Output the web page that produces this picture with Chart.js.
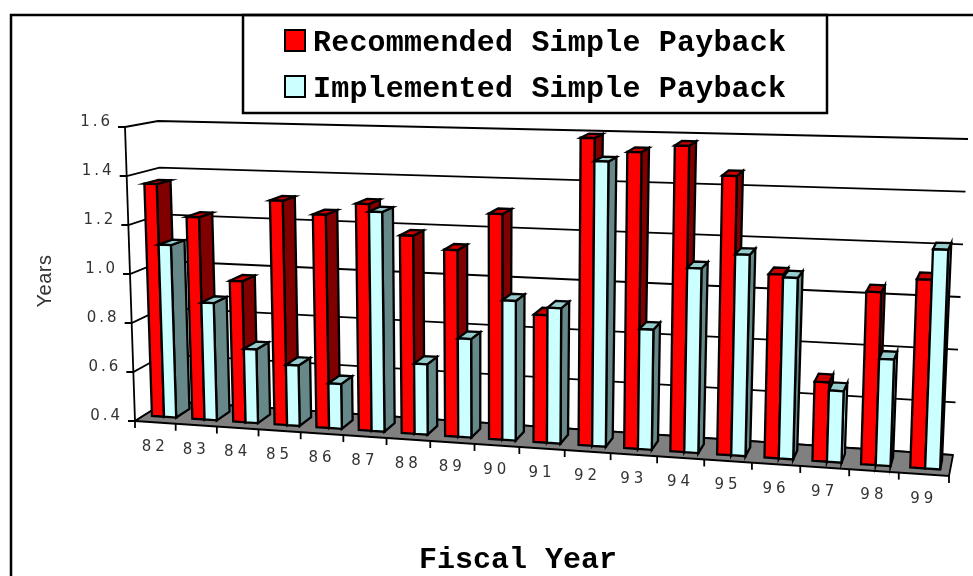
<!DOCTYPE html>
<html>
<head>
<meta charset="utf-8">
<style>html,body{margin:0;padding:0;background:#fff}canvas{display:block}</style>
<script src="https://cdn.jsdelivr.net/npm/chart.js@4"></script>
</head>
<body>
<canvas id="c" width="973" height="576"></canvas>
<script>
const categories = ['82','83','84','85','86','87','88','89','90','91','92','93','94','95','96','97','98','99'];
const recommended = [1.36,1.23,0.975,1.31,1.26,1.31,1.19,1.14,1.29,0.90,1.60,1.55,1.58,1.47,1.10,0.70,1.05,1.105];
const implemented = [1.11,0.88,0.70,0.645,0.58,1.28,0.68,0.79,0.95,0.93,1.51,0.865,1.11,1.17,1.09,0.67,0.80,1.22];
const seriesNames = ['Recommended Simple Payback','Implemented Simple Payback'];
const axisTitleY = 'Years';
const axisTitleX = 'Fiscal Year';

// Corners of the perspective box: [s, v] at the front and back planes
const FRONT = {bl:[135,421], br:[949,476], tl:[125,127], tr:[960,152]};
const BACK  = {bl:[167,401], br:[953,455], tl:[158,121], tr:[968,139]};
const K = 1.118;
const DEPTH = [0.28, 0.71];

function lerp(a,b,t){return a+(b-a)*t;}
function planePoint(P,s,v){
  const bx=lerp(P.bl[0],P.br[0],s), by=lerp(P.bl[1],P.br[1],s);
  const tx=lerp(P.tl[0],P.tr[0],s), ty=lerp(P.tl[1],P.tr[1],s);
  return [lerp(bx,tx,v),lerp(by,ty,v)];
}
function project(s,v,w){
  const a=planePoint(FRONT,s,v), b=planePoint(BACK,s,v);
  return [lerp(a[0],b[0],w),lerp(a[1],b[1],w)];
}
function poly(ctx,pts,fill){
  ctx.beginPath();
  pts.forEach((p,i)=>i?ctx.lineTo(p[0],p[1]):ctx.moveTo(p[0],p[1]));
  ctx.closePath();
  if(fill){ctx.fillStyle=fill;ctx.fill();}
  ctx.stroke();
}
function line(ctx,a,b){ctx.beginPath();ctx.moveTo(a[0],a[1]);ctx.lineTo(b[0],b[1]);ctx.stroke();}
function fitText(ctx,text,x,y,width){
  ctx.letterSpacing='0px';
  const w=ctx.measureText(text).width;
  ctx.letterSpacing=((width-w)/(text.length-1))+'px';
  ctx.textAlign='left';
  ctx.fillText(text,x,y);
  ctx.letterSpacing='0px';
}

const scene3d = {
  id:'scene3d',
  beforeDatasetsDraw(chart){
    const ctx=chart.ctx, area=chart.chartArea, xs=chart.scales.x, ys=chart.scales.y;
    const sOf=px=>{const t=(px-area.left)/(area.right-area.left);return t/(t+K*(1-t));};
    const vOf=py=>(area.bottom-py)/(area.bottom-area.top);
    ctx.save();
    ctx.strokeStyle='#000';ctx.lineJoin='miter';ctx.lineCap='butt';

    // outer frame
    ctx.lineWidth=2.5;
    ctx.beginPath();ctx.moveTo(11,576);ctx.lineTo(11,15);ctx.lineTo(973,15);ctx.stroke();

    // gridlines, value axis and its labels
    ctx.lineWidth=1.8;
    ys.ticks.forEach((t,i)=>{
      const v=vOf(ys.getPixelForTick(i));
      const f=project(0,v,0), bl=project(0,v,1), br=project(1,v,1);
      ctx.beginPath();ctx.moveTo(f[0]-7,f[1]);ctx.lineTo(f[0],f[1]);ctx.lineTo(bl[0],bl[1]);ctx.lineTo(br[0],br[1]);ctx.stroke();
      ctx.save();
      ctx.fillStyle='#333';ctx.font='15px "DejaVu Sans"';ctx.letterSpacing='3px';
      ctx.textBaseline='middle';ctx.textAlign='left';
      const w=ctx.measureText(t.label).width-3;
      ctx.fillText(t.label,f[0]-15-w,f[1]-5);
      ctx.restore();
    });
    line(ctx,project(0,1,0),project(0,0,0));

    // floor
    poly(ctx,[project(0,0,0),project(1,0,0),project(1,0,1),project(0,0,1)],'#808080');

    // category ticks and labels
    const n=xs.ticks.length, half=(xs.getPixelForTick(1)-xs.getPixelForTick(0))/2;
    for(let i=0;i<=n;i++){
      const c=i<n?xs.getPixelForTick(i)-half:xs.getPixelForTick(n-1)+half;
      const p=project(sOf(c),0,0);
      line(ctx,p,[p[0],p[1]+7]);
    }
    xs.ticks.forEach((t,i)=>{
      const p=project(sOf(xs.getPixelForTick(i)),0,0);
      ctx.save();
      ctx.fillStyle='#333';ctx.font='15px "DejaVu Sans"';ctx.letterSpacing='4px';
      ctx.textBaseline='middle';ctx.textAlign='left';
      const w=ctx.measureText(t.label).width-4;
      ctx.fillText(t.label,p[0]-2-w/2,p[1]+24.5);
      ctx.restore();
    });

    // bars, left to right and series by series
    const m0=chart.getDatasetMeta(0).data, m1=chart.getDatasetMeta(1).data;
    ctx.lineWidth=2.3;
    m0.forEach((_,i)=>{
      [m0[i],m1[i]].forEach((el,di)=>{
        const props=el.getProps(['x','y','base','width'],true);
        const s0=sOf(props.x-props.width/2), s1=sOf(props.x+props.width/2);
        const v0=Math.max(0,vOf(props.base)), v1=vOf(props.y);
        const [w0,w1]=DEPTH;
        const A=project(s0,v1,w0),B=project(s1,v1,w0),C=project(s1,v1,w1),D=project(s0,v1,w1);
        const E=project(s1,v0,w0),F=project(s1,v0,w1),G=project(s0,v0,w0);
        const lateCyan=di===1&&i>=15;
        const front=di===0?'#ff0000':'#ccffff';
        const side=di===0?'#800000':(lateCyan?'#99cccc':'#668888');
        const top=di===0?'#cc0000':'#99cccc';
        poly(ctx,[B,C,F,E],side);
        poly(ctx,[A,B,C,D],top);
        poly(ctx,[A,B,E,G],front);
      });
    });

    // legend
    ctx.lineWidth=2.5;
    ctx.strokeRect(243,15,584,98);
    const rows=[[30,51],[76,97]];
    chart.data.datasets.forEach((d,i)=>{
      ctx.fillStyle=d.backgroundColor;
      ctx.fillRect(285,rows[i][0],20,21);
      ctx.lineWidth=2;
      ctx.strokeRect(285,rows[i][0],20,21);
      ctx.fillStyle='#000';
      ctx.font='bold 30px "Liberation Mono"';
      ctx.textBaseline='alphabetic';
      fitText(ctx,d.label,313,rows[i][1],473);
    });

    // axis titles
    ctx.fillStyle='#000';
    ctx.font='bold 30px "Liberation Mono"';
    fitText(ctx,axisTitleX,419,568,198);
    ctx.save();
    ctx.translate(51,281);ctx.rotate(-Math.PI/2);
    ctx.fillStyle='#333';ctx.font='20px "Liberation Sans"';
    ctx.textAlign='center';ctx.letterSpacing='0.5px';
    ctx.fillText(axisTitleY,0,0);
    ctx.restore();

    ctx.restore();
    return false;
  }
};

new Chart(document.getElementById('c'),{
  type:'bar',
  data:{
    labels:categories,
    datasets:[
      {label:seriesNames[0],data:recommended,backgroundColor:'#ff0000',borderColor:'#000',barPercentage:1,categoryPercentage:0.6},
      {label:seriesNames[1],data:implemented,backgroundColor:'#ccffff',borderColor:'#000',barPercentage:1,categoryPercentage:0.6}
    ]
  },
  plugins:[scene3d],
  options:{
    responsive:false,animation:false,
    layout:{padding:{left:125,right:13,top:127,bottom:155}},
    plugins:{legend:{display:false},title:{display:false},tooltip:{enabled:false}},
    scales:{
      x:{display:false,offset:true,ticks:{autoSkip:false}},
      y:{display:false,min:0.4,max:1.6,ticks:{stepSize:0.2,callback:v=>v.toFixed(1)}}
    }
  }
});
</script>
</body>
</html>
